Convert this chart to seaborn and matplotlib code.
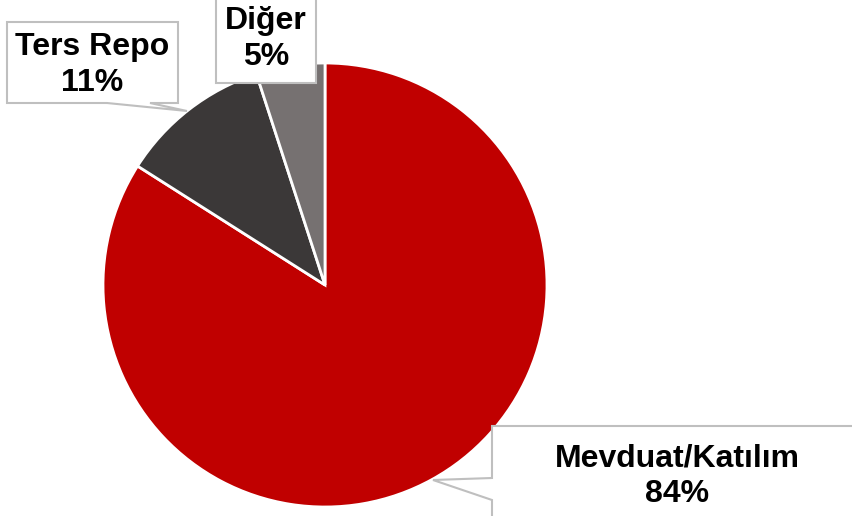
import matplotlib.pyplot as plt
import seaborn as sns
from matplotlib.patches import Polygon

# data
labels = ["Mevduat/Katılım", "Ters Repo", "Diğer"]
shares = [84, 11, 5]
colors = ["#C00000", "#3B3838", "#767171"]

sns.set_style("white")
plt.rcParams['font.family'] = ['Liberation Sans', 'DejaVu Sans']

W, H = 853, 516
fig = plt.figure(figsize=(W / 100, H / 100), dpi=100)
ax = fig.add_axes([0, 0, 1, 1])


def py(y):
    # convert pixel row (from top) to data y
    return H - y


ax.pie(shares, colors=colors, startangle=90, counterclock=False,
       center=(325, py(285)), radius=222,
       wedgeprops=dict(edgecolor="white", linewidth=2))

# pie() resets the limits, so set them afterwards
ax.set_xlim(0, W)
ax.set_ylim(0, H)
ax.set_aspect('equal')
ax.axis('off')

# callout boxes (pixel outlines, y from top)
callouts = {
    "Ters Repo": [(7, 22), (178, 22), (178, 103), (150, 103), (187, 111),
                  (107, 103), (7, 103)],
    "Diğer": [(216, -5), (316, -5), (316, 83), (216, 83)],
    "Mevduat/Katılım": [(492, 426), (870, 426), (870, 530), (492, 530),
                        (492, 500), (433, 480), (492, 478)],
}
text_pos = {
    "Ters Repo": (92, 65),
    "Diğer": (266, 39),
    "Mevduat/Katılım": (677, 476),
}

for lab, val in zip(labels, shares):
    pts = [(x, py(y)) for x, y in callouts[lab]]
    ax.add_patch(Polygon(pts, closed=True, facecolor="white",
                         edgecolor="#BFBFBF", linewidth=1.5, zorder=3,
                         clip_on=False))
    tx, ty = text_pos[lab]
    ax.text(tx, py(ty), f"{lab}\n{val}%", ha="center", va="center",
            fontsize=23, fontweight="bold", color="black",
            linespacing=1.25, zorder=4)

fig.savefig("out.png", dpi=100, facecolor="white")
